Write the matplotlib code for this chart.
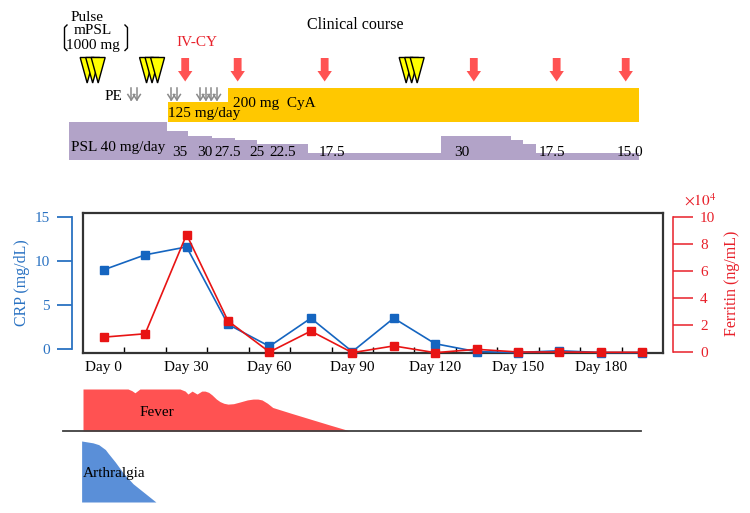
import numpy as np
import matplotlib.pyplot as plt
from matplotlib.patches import Polygon
from matplotlib.lines import Line2D
from matplotlib.transforms import ScaledTranslation

plt.rcParams['font.family'] = ['Liberation Serif', 'DejaVu Serif']
plt.rcParams['mathtext.fontset'] = 'stix'

# lab values, one sample every 15 days
lab_days = [0, 15, 30, 45, 60, 75, 90, 105, 120, 135, 150, 165, 180, 195]
crp = [9.0, 10.7, 11.6, 2.8, 0.3, 3.5, -0.3, 3.5, 0.6, -0.3, -0.4, -0.2, -0.4, -0.4]
ferritin = [1.1, 1.35, 8.7, 2.3, 0.0, 1.55, -0.05, 0.45, -0.05, 0.2, 0.0, 0.0, -0.02, -0.02]  # x10^4 ng/mL

day_ticks = [0, 30, 60, 90, 120, 150, 180]
day_labels = ["Day %d" % d for d in day_ticks]

# treatments (day of administration)
pulse_days = [-4, 17.5, 111.5]
ivcy_days = [29.5, 48.5, 80, 134, 164, 189]
pe_days = [10, 12, 24.5, 26.5, 35, 37, 39, 41]

# PSL taper: start day of each step and dose (mg/day)
psl_start = [-12.6, 22.9, 30.5, 39.2, 47.5, 55.5, 74.0, 122.2, 147.6, 151.9, 156.6, 175.0]
psl_dose = [40, 35, 30, 27.5, 25, 22.5, 17.5, 30, 25, 22.5, 17.5, 15]
psl_end = 193.8
psl_text = ["35", "30", "27.5", "25", "22.5", "17.5", "30", "17.5", "15.0"]

# CyA dose (mg/day)
cya_start = [23.3, 45.0]
cya_dose = [125, 200]
cya_end = 193.8

# symptom intensity (0..1)
fever_day = [-7.5, 8.8, 10.2, 11.3, 12.3, 13.1, 27.6, 29.5, 30.5, 32.0, 33.8, 35.5, 36.7,
             38.0, 39.2, 40.8, 42.1, 43.5, 45.0, 47.0, 49.3, 52.0, 54.1, 55.8, 57.3,
             59.3, 61.2, 68.0, 75.0, 82.0, 89.2]
fever_level = [1.0, 1.0, 0.96, 0.91, 0.96, 1.0, 1.0, 0.95, 0.88, 0.95, 0.88, 0.95, 0.95,
               0.92, 0.86, 0.76, 0.70, 0.66, 0.64, 0.65, 0.69, 0.74, 0.76, 0.76, 0.74,
               0.66, 0.56, 0.42, 0.28, 0.14, 0.0]
arth_day = [-8.0, -3.9, -1.8, -0.6, 0.6, 1.6, 4.1, 7.0, 10.6, 18.9]
arth_level = [1.0, 0.97, 0.94, 0.9, 0.86, 0.8, 0.66, 0.48, 0.3, 0.0]

blue = '#2a72c2'
red = '#e8202a'
arrow_red = '#ff5252'

W, H = 750, 513
fig = plt.figure(figsize=(W / 100, H / 100), dpi=100)

# ---- lab chart ----
x0, x1 = -7.5, 202.5
box_l, box_r, box_t, box_b = 83, 663, 213, 353
ax = fig.add_axes([box_l / W, 1 - box_b / H, (box_r - box_l) / W, (box_b - box_t) / H])
ax.set_xlim(x0, x1)
ax.set_ylim(-0.455, 15.455)
ax.plot(lab_days, crp, color='#1565c0', marker='s', ms=6, lw=1.2, clip_on=False, zorder=3)
ax.set_xticks(day_ticks, day_labels)
ax.set_xticks(np.arange(7.5, 195, 15), minor=True)
ax.tick_params(axis='x', which='major', length=0, pad=6, labelsize=11)
ax.tick_params(axis='x', which='minor', direction='in', length=4, width=1)
ax.set_yticks([0, 5, 10, 15])
ax.tick_params(axis='y', colors=blue, length=11, width=1.3, pad=5, labelsize=11)
ax.spines['left'].set_position(('outward', 8))
ax.spines['left'].set_bounds(0, 15)
ax.spines['left'].set_color(blue)
ax.spines['left'].set_linewidth(1.3)
for s in ['top', 'bottom', 'right']:
    ax.spines[s].set_color('#333333')
    ax.spines[s].set_linewidth(1.6)
ax.set_ylabel('CRP (mg/dL)', color=blue, fontsize=11.5, labelpad=3)

ax2 = ax.twinx()
ax2.set_ylim(-0.074, 10.296)
ax2.plot(lab_days, ferritin, color='#e81414', marker='s', ms=6, lw=1.2, clip_on=False, zorder=3)
ax2.set_yticks([0, 2, 4, 6, 8, 10])
ax2.tick_params(axis='y', colors=red, length=14.5, width=1.1, pad=5, labelsize=11)
ax2.spines['right'].set_position(('outward', 7.2))
ax2.spines['right'].set_bounds(0, 10)
ax2.spines['right'].set_color(red)
ax2.spines['right'].set_linewidth(1.1)
ax2.spines['left'].set_color('#333333')
ax2.spines['left'].set_linewidth(1.6)
ax2.spines['top'].set_visible(False)
ax2.spines['bottom'].set_visible(False)
ax2.set_ylabel('Ferritin (ng/mL)', color=red, fontsize=11.5, labelpad=6)

# ---- overlay for the treatment timeline and symptoms (x in days, y in pixels) ----
scale = (box_r - box_l) / (x1 - x0)
ov = fig.add_axes([0, 0, 1, 1])
ov.set_xlim(x0 - box_l / scale, x0 + (W - box_l) / scale)
ov.set_ylim(H, 0)
ov.axis('off')
ov.patch.set_visible(False)


def px_poly(day, y, verts, **kw):
    tr = fig.dpi_scale_trans + ScaledTranslation(day, y, ov.transData)
    ov.add_patch(Polygon([(vx / 100, -vy / 100) for vx, vy in verts], closed=True,
                         transform=tr, **kw))


def px_line(day, y, verts, **kw):
    tr = fig.dpi_scale_trans + ScaledTranslation(day, y, ov.transData)
    ov.add_line(Line2D([vx / 100 for vx, vy in verts], [-vy / 100 for vx, vy in verts],
                       transform=tr, **kw))


fs = 11
ov.text(91, 25, 'Clinical course', fontsize=11.5, ha='center', va='center')

# pulse mPSL
ov.text(-6.1, 21, 'Pulse', fontsize=11, ha='center', va='baseline')
ov.text(-3.9, 34.5, 'mPSL', fontsize=11, ha='center', va='baseline')
ov.text(-3.9, 48.5, '1000 mg', fontsize=11, ha='center', va='baseline')
px_line(-14.2, 25, [(2.5, 0), (0, 2.5), (0, 23), (2.5, 25.5)], color='k', lw=1)
px_line(8.6, 25, [(-2.5, 0), (0, 2.5), (0, 23), (-2.5, 25.5)], color='k', lw=1)
for d in pulse_days:
    for off in (-5.5, 0, 5.5):
        px_poly(d, 57.5, [(off - 7, 0), (off + 7, 0), (off, 25.5)],
                facecolor='#ffff00', edgecolor='k', lw=1)

# IV-CY
ov.text(33.8, 43, 'IV-CY', fontsize=fs, color=red, ha='center', va='center')
for d in ivcy_days:
    px_poly(d, 58, [(-3.9, 0), (3.9, 0), (3.9, 13), (7.2, 13), (0, 23.5), (-7.2, 13), (-3.9, 13)],
            facecolor=arrow_red, edgecolor='none')

# plasma exchange
ov.text(3.4, 96, 'PE', fontsize=fs, ha='center', va='center')
for d in pe_days:
    px_line(d, 88, [(0, 0), (0, 12)], color='#8a8a8a', lw=1.1)
    px_line(d, 88, [(-3.5, 6.5), (0, 12), (3.5, 6.5)], color='#8a8a8a', lw=1.1)

# CyA bar
cya_base = 121.5
cya_h = [0.193 * v - 5.1 for v in cya_dose]
ov.fill_between(cya_start + [cya_end], cya_base, [cya_base - h for h in cya_h + cya_h[-1:]],
                step='post', color='#ffc800', lw=0)
ov.text(23.3, 113, '125 mg/day', fontsize=fs, ha='left', va='center')
ov.text(46.8, 104, '200 mg  CyA', fontsize=fs, ha='left', va='center')

# PSL bar
psl_base = 159.5
psl_h = list(np.interp(psl_dose, [15, 17.5, 22.5, 25, 27.5, 30, 35, 40],
                       [6.5, 6.5, 16, 19.5, 22, 24, 28.5, 37.5]))
ov.fill_between(psl_start + [psl_end], psl_base, [psl_base - h for h in psl_h + psl_h[-1:]],
                step='post', color='#b2a3c8', lw=0)
ov.text(-11.8, 147, 'PSL 40 mg/day', fontsize=fs, ha='left', va='center')
for t, d in zip(psl_text, [27.6, 36.7, 45, 55.5, 64.9, 82.7, 129.7, 162.3, 190.6]):
    ov.text(d, 152, t, fontsize=fs, ha='center', va='center')

# x10^4 for ferritin
ov.text(216, 200, r'$\times10^4$', fontsize=11, color=red, ha='center', va='center')

# symptoms
base = 431
ov.fill_between(fever_day, base, [base - 42 * v for v in fever_level], color='#ff5252', lw=0)
ov.text(19.3, 413, 'Fever', fontsize=fs, ha='center', va='center')
ov.plot([-14.7, 194.6], [base, base], color='#404040', lw=1.3)
arth_base = 502
ov.fill_between(arth_day, arth_base, [arth_base - 61 * v for v in arth_level],
                color='#5a8fd8', lw=0)
ov.text(3.7, 474, 'Arthralgia', fontsize=fs, ha='center', va='center')

fig.savefig('out.png', dpi=100)
